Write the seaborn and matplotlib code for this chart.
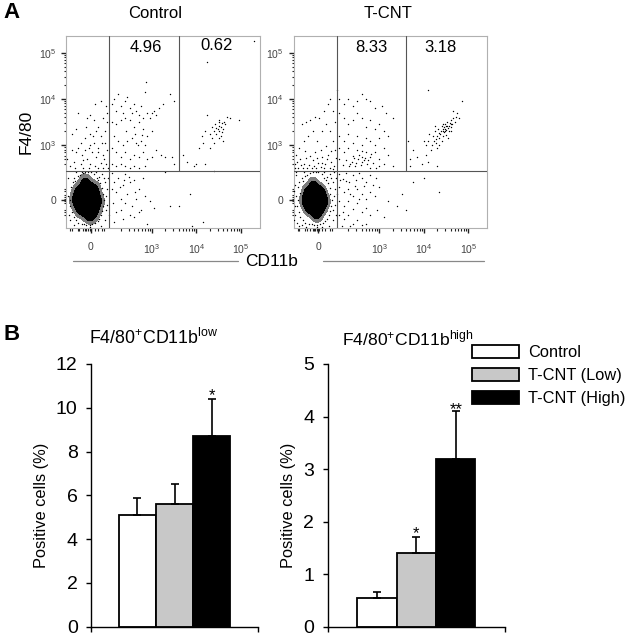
"""
Flow plots (F4/80 vs CD11b) and positive-cell bar charts.
Output: out.png
"""

import numpy as np
import pandas as pd
import matplotlib
matplotlib.use("Agg")
import matplotlib.pyplot as plt
from matplotlib.colors import ListedColormap
import seaborn as sns

W, H = 629, 637

GROUPS = ["Control", "T-CNT (Low)", "T-CNT (High)"]
COLORS = ["white", "#c8c8c8", "black"]
LOW_VALUES = [5.1, 5.6, 8.7]
LOW_ERR = [0.8, 0.9, 1.7]
LOW_STARS = ["", "", "*"]
HIGH_VALUES = [0.55, 1.4, 3.2]
HIGH_ERR = [0.11, 0.3, 0.9]
HIGH_STARS = ["", "*", "**"]

# flow events, in display decades (10^3 = 3, 10^4 = 4, 10^5 = 5)
BLOB_CORE_CTRL = [(1.55, 1.82), (1.4, 1.85), (1.7, 1.85), (1.55, 2.1), (1.55, 1.55), (1.35, 2.0), (1.72, 2.05),
                  (1.38, 1.62), (1.72, 1.6), (1.47, 1.95), (1.63, 1.7), (1.47, 1.7), (1.63, 1.95), (1.28, 1.8),
                  (1.8, 1.8), (1.5, 2.2), (1.62, 1.48), (1.55, 1.82), (1.5, 1.8), (1.6, 1.85)]
BLOB_CORE_TCNT = [(1.55, 1.82), (1.42, 1.85), (1.68, 1.85), (1.55, 2.05), (1.55, 1.58), (1.38, 2.0), (1.7, 2.0),
                  (1.4, 1.65), (1.7, 1.65), (1.47, 1.95), (1.63, 1.7), (1.47, 1.7), (1.63, 1.95), (1.32, 1.8),
                  (1.78, 1.8), (1.52, 2.15), (1.6, 1.5), (1.55, 1.82), (1.5, 1.8), (1.6, 1.85)]

HALO_CTRL = [(1.12, 1.9), (1.15, 1.7), (1.18, 2.1), (1.13, 1.5), (1.2, 1.55), (1.17, 1.82), (1.22, 2.2), (1.24, 1.45),
             (1.22, 1.98), (1.25, 2.3), (1.3, 1.38), (1.28, 2.22), (1.33, 2.33), (1.35, 1.33), (1.38, 2.36), (1.42, 1.3),
             (1.45, 2.4), (1.48, 1.3), (1.5, 2.42), (1.53, 1.28), (1.57, 2.43), (1.6, 1.28), (1.63, 2.42), (1.66, 1.3),
             (1.7, 2.38), (1.73, 1.32), (1.76, 2.3), (1.78, 1.36), (1.8, 2.25), (1.82, 1.42), (1.84, 2.18), (1.86, 1.5),
             (1.88, 2.08), (1.89, 1.58), (1.9, 1.95), (1.91, 1.7), (1.93, 1.82), (1.95, 2.2), (1.96, 1.6), (1.98, 1.9),
             (2.0, 2.05), (2.0, 1.72), (2.02, 2.3), (2.03, 1.5), (1.26, 1.28), (1.42, 2.43), (1.75, 2.43), (1.88, 2.38),
             (1.95, 1.38), (1.86, 1.25), (1.15, 1.38), (1.12, 2.3), (1.3, 2.42), (1.6, 1.24), (1.92, 2.3), (1.82, 2.32)]
SPARSE_CTRL = [(1.85, 3.95), (1.96, 3.85), (1.72, 3.9), (1.62, 3.65), (1.55, 3.6), (1.7, 3.55), (1.8, 3.4), (1.9, 3.6),
               (2.0, 3.7), (1.95, 3.3), (1.85, 3.2), (1.75, 3.3), (1.6, 3.25), (1.5, 3.15), (1.4, 3.05), (1.3, 3.35),
               (1.2, 3.25), (1.33, 3.7), (1.6, 3.0), (1.7, 3.05), (1.8, 2.95), (1.95, 3.05), (2.0, 2.9), (1.9, 2.8),
               (1.75, 2.75), (1.65, 2.85), (1.5, 2.9), (1.42, 2.8), (1.3, 2.85), (1.2, 2.9), (1.25, 2.65), (1.4, 2.6),
               (1.55, 2.7), (1.62, 2.6), (1.72, 2.55), (1.85, 2.62), (1.98, 2.6), (1.15, 2.55), (1.28, 2.52), (1.45, 2.5),
               (1.58, 2.52), (1.8, 2.5), (1.9, 2.52), (2.02, 2.5), (1.1, 2.7), (1.35, 2.95), (1.52, 3.4), (1.68, 3.2),
               (1.88, 3.05), (2.0, 3.5), (1.78, 2.85), (1.58, 2.95), (1.92, 2.7), (1.46, 2.68),
               (2.1, 3.9), (2.15, 4.0), (2.2, 3.75), (2.25, 4.1), (2.3, 3.85), (2.35, 3.7), (2.4, 3.95), (2.45, 4.05),
               (2.5, 3.8), (2.55, 3.7), (2.6, 3.9), (2.65, 3.75), (2.7, 3.65), (2.75, 3.85), (2.8, 3.6), (2.85, 4.15),
               (2.9, 3.7), (2.95, 3.6), (3.0, 3.7), (3.05, 3.75), (3.1, 3.65), (3.15, 3.8), (3.25, 3.9), (3.4, 4.1),
               (3.5, 3.95), (2.87, 4.36), (2.1, 3.5), (2.2, 3.45), (2.3, 3.55), (2.4, 3.6), (2.5, 3.55), (2.6, 3.4),
               (2.7, 3.5), (2.8, 3.35), (2.9, 3.2), (3.0, 3.3), (2.15, 3.2), (2.25, 3.1), (2.35, 3.0), (2.45, 3.1),
               (2.55, 3.15), (2.65, 3.05), (2.75, 3.1), (2.85, 3.0), (2.1, 2.95), (2.2, 2.85), (2.3, 2.75), (2.4, 2.85),
               (2.5, 2.7), (2.6, 2.8), (2.7, 2.75), (2.8, 2.85), (2.9, 2.7), (2.1, 2.6), (2.2, 2.55), (2.3, 2.6),
               (2.4, 2.55), (2.5, 2.5), (2.6, 2.55), (2.7, 2.5), (2.85, 2.55), (3.0, 2.75), (3.2, 2.8), (3.3, 2.75),
               (3.5, 2.6), (3.45, 2.75), (3.1, 2.9), (2.68, 3.0), (2.62, 3.25), (2.42, 3.3), (2.78, 3.22),
               (4.24, 4.79), (5.3, 5.25), (3.7, 2.8), (3.8, 2.65), (3.95, 2.55), (4.05, 2.95), (4.15, 3.05), (4.0, 2.6),
               (4.2, 2.6), (4.25, 3.65), (4.12, 3.2), (4.2, 3.3), (4.3, 3.25), (4.35, 3.4), (4.4, 3.3), (4.42, 3.45),
               (4.45, 3.25), (4.48, 3.35), (4.5, 3.42), (4.52, 3.3), (4.55, 3.4), (4.58, 3.48), (4.6, 3.35), (4.62, 3.5),
               (4.65, 3.45), (4.55, 3.2), (4.5, 3.15), (4.4, 3.05), (4.35, 3.15), (4.6, 3.1), (4.3, 2.95), (4.5, 3.55),
               (4.75, 3.58), (4.95, 3.55), (4.68, 3.62), (4.45, 3.38), (4.52, 3.5), (4.57, 3.28),
               (2.1, 2.4), (2.15, 2.2), (2.2, 2.0), (2.25, 2.3), (2.3, 1.85), (2.35, 2.15), (2.4, 2.38), (2.45, 1.95),
               (2.5, 2.2), (2.55, 1.7), (2.6, 2.25), (2.65, 1.85), (2.7, 2.05), (2.75, 1.6), (2.8, 2.3), (2.85, 1.9),
               (2.12, 1.75), (2.2, 1.55), (2.3, 1.6), (2.4, 1.75), (2.5, 1.5), (2.6, 1.45), (2.7, 1.55), (2.15, 1.35),
               (2.35, 1.4), (2.1, 2.05), (2.28, 2.1), (2.38, 2.25), (2.48, 2.32), (2.62, 2.0), (2.95, 1.8), (3.05, 1.65),
               (3.4, 1.7), (3.6, 1.7), (3.85, 1.95), (4.15, 1.35), (3.3, 2.42), (3.9, 1.25), (4.4, 2.45), (2.9, 1.3)]

HALO_TCNT = [(1.12, 1.9), (1.14, 1.7), (1.16, 2.1), (1.1, 1.5), (1.2, 1.55), (1.17, 1.82), (1.2, 2.2), (1.22, 1.45),
             (1.22, 1.98), (1.25, 2.3), (1.28, 1.38), (1.28, 2.22), (1.33, 2.33), (1.33, 1.33), (1.38, 2.36), (1.42, 1.3),
             (1.45, 2.4), (1.48, 1.3), (1.5, 2.42), (1.53, 1.28), (1.57, 2.43), (1.6, 1.28), (1.63, 2.42), (1.66, 1.3),
             (1.7, 2.38), (1.73, 1.32), (1.76, 2.3), (1.78, 1.36), (1.8, 2.25), (1.82, 1.42), (1.84, 2.18), (1.86, 1.5),
             (1.88, 2.08), (1.89, 1.58), (1.9, 1.95), (1.91, 1.7), (1.93, 1.82), (1.95, 2.2), (1.96, 1.6), (1.98, 1.9),
             (2.0, 2.05), (2.0, 1.72), (2.02, 2.3), (2.03, 1.5), (1.26, 1.28), (1.15, 1.32), (1.12, 2.35), (1.1, 2.15),
             (1.3, 2.42), (1.75, 2.43), (1.88, 2.38), (1.95, 1.38), (1.86, 1.25), (1.6, 1.24), (1.92, 2.3), (1.82, 2.32),
             (1.2, 1.25), (1.35, 1.24), (1.7, 1.23), (1.1, 1.7), (1.98, 2.42), (1.08, 2.02), (1.09, 1.38), (1.13, 2.42)]
SPARSE_TCNT = [(1.9, 4.0), (1.85, 3.9), (1.75, 3.75), (1.55, 3.62), (1.35, 3.5), (1.25, 3.45), (1.45, 3.55), (1.65, 3.58),
               (1.95, 3.75), (1.8, 3.45), (1.9, 3.3), (1.7, 3.3), (1.6, 3.1), (1.5, 3.3), (1.4, 3.2), (1.3, 3.1),
               (1.2, 2.95), (1.12, 2.8), (1.15, 2.65), (1.22, 2.7), (1.3, 2.6), (1.35, 2.72), (1.42, 2.58), (1.5, 2.68),
               (1.55, 2.85), (1.62, 2.62), (1.7, 2.75), (1.78, 2.6), (1.85, 2.8), (1.92, 2.65), (2.0, 2.9), (1.98, 2.55),
               (1.1, 2.52), (1.18, 2.5), (1.28, 2.5), (1.38, 2.52), (1.48, 2.5), (1.58, 2.5), (1.68, 2.53), (1.75, 2.5),
               (1.88, 2.52), (1.95, 2.48), (2.02, 2.72), (1.8, 2.98), (1.68, 2.9), (1.95, 3.1), (2.0, 3.5), (1.1, 2.6),
               (1.24, 2.58), (1.44, 2.78), (1.82, 2.7), (1.72, 2.62), (1.6, 2.72), (1.92, 2.88), (1.52, 2.55), (1.32, 2.88),
               (2.05, 4.2), (2.1, 4.0), (2.2, 3.9), (2.3, 4.0), (2.4, 3.85), (2.5, 3.95), (2.6, 4.1), (2.7, 4.0),
               (2.8, 3.95), (2.9, 3.8), (3.05, 3.85), (3.15, 3.7), (3.3, 3.6), (2.1, 3.7), (2.2, 3.6), (2.3, 3.45),
               (2.4, 3.55), (2.5, 3.7), (2.6, 3.6), (2.7, 3.4), (2.8, 3.55), (2.9, 3.35), (3.0, 3.45), (3.1, 3.3),
               (3.2, 3.2), (2.1, 3.2), (2.2, 3.1), (2.3, 3.25), (2.4, 3.05), (2.5, 3.2), (2.6, 3.0), (2.7, 3.15),
               (2.8, 3.1), (2.9, 3.0), (3.0, 3.15), (3.1, 2.95), (2.1, 2.95), (2.2, 2.85), (2.3, 2.95), (2.4, 2.78),
               (2.5, 2.9), (2.6, 2.75), (2.7, 2.85), (2.8, 2.75), (2.9, 2.85), (3.0, 2.7), (3.1, 2.6), (3.2, 2.8),
               (3.3, 2.55), (2.1, 2.7), (2.18, 2.58), (2.25, 2.68), (2.32, 2.55), (2.38, 2.65), (2.45, 2.55), (2.52, 2.7),
               (2.58, 2.58), (2.65, 2.68), (2.72, 2.6), (2.78, 2.52), (2.85, 2.62), (2.92, 2.52), (3.0, 2.55), (2.55, 2.8),
               (2.62, 2.88), (2.68, 2.72), (2.48, 2.62), (2.42, 2.72), (2.75, 2.68), (2.35, 2.6), (2.6, 2.65), (2.82, 2.82),
               (3.65, 3.1), (3.7, 2.7), (3.75, 2.9), (3.85, 2.75), (3.95, 2.6), (4.05, 2.8), (4.1, 2.65), (4.15, 2.9),
               (4.0, 3.1), (4.3, 2.55), (3.68, 2.55), (4.1, 4.2), (4.85, 3.95), (4.75, 3.7), (4.65, 3.75),
               (4.05, 3.0), (4.1, 3.1), (4.12, 3.25), (4.18, 3.0), (4.2, 3.2), (4.22, 3.1), (4.25, 3.3), (4.28, 3.05),
               (4.3, 3.2), (4.32, 3.35), (4.35, 3.15), (4.38, 3.3), (4.4, 3.42), (4.42, 3.2), (4.44, 3.35), (4.46, 3.28),
               (4.48, 3.45), (4.5, 3.32), (4.52, 3.5), (4.54, 3.38), (4.56, 3.3), (4.58, 3.48), (4.6, 3.4), (4.62, 3.55),
               (4.64, 3.45), (4.66, 3.58), (4.7, 3.5), (4.72, 3.62), (4.45, 3.4), (4.5, 3.22), (4.4, 3.1), (4.35, 3.0),
               (4.3, 2.95), (4.55, 3.15), (4.25, 3.42), (4.5, 3.42), (4.42, 3.3), (4.47, 3.36), (4.53, 3.42), (4.57, 3.42),
               (4.6, 3.3), (4.36, 3.24), (4.28, 3.14), (4.33, 3.26), (4.8, 3.6), (4.48, 3.3), (4.43, 3.46), (4.62, 3.46),
               (2.1, 2.38), (2.18, 2.28), (2.25, 2.4), (2.32, 2.2), (2.4, 2.35), (2.48, 2.25), (2.55, 2.4), (2.62, 2.3),
               (2.7, 2.2), (2.78, 2.35), (2.85, 2.15), (2.92, 2.3), (3.0, 2.1), (2.1, 2.1), (2.2, 2.0), (2.3, 2.05),
               (2.4, 1.9), (2.5, 2.05), (2.6, 1.95), (2.7, 1.85), (2.8, 2.0), (2.9, 1.9), (2.1, 1.8), (2.2, 1.7),
               (2.3, 1.8), (2.4, 1.62), (2.5, 1.75), (2.6, 1.55), (2.7, 1.65), (2.8, 1.5), (2.1, 1.5), (2.2, 1.4),
               (2.3, 1.5), (2.4, 1.3), (2.5, 1.38), (2.6, 1.28), (2.7, 1.3), (2.15, 1.25), (2.35, 1.25), (2.05, 1.95),
               (2.25, 2.22), (2.45, 2.12), (2.65, 2.12), (2.12, 2.25), (2.35, 1.95), (2.55, 1.85), (2.18, 1.55), (3.2, 1.8),
               (3.4, 1.7), (3.5, 1.95), (3.6, 1.6), (3.1, 1.45), (3.75, 2.2), (4.0, 2.3), (4.35, 2.0), (2.95, 1.6)]

# axis decoration positions in display decades
X_LIM, Y_LIM = (1.07, 5.42), (1.215, 5.36)
GATE_X1, GATE_X2, GATE_Y = 2.04, 3.60, 2.45
X_ZERO, Y_ZERO = 1.63, 1.82
DECADES = [3, 4, 5]
NEAR_ZERO_X = [1.17, 1.2, 1.33, 1.37, 1.45, 1.5, 1.53, 1.56, 1.6, 1.64, 1.72, 1.78, 1.88, 1.93]
NEAR_ZERO_Y = [1.5, 1.55, 1.6, 1.76, 1.8, 1.84, 1.88, 1.92, 2.02, 2.05]


def px_axes(fig, left, top, right, bottom):
    return fig.add_axes([left / W, 1 - bottom / H, (right - left) / W, (bottom - top) / H])


def px_text(fig, x, y, s, **kw):
    kw.setdefault("ha", "center")
    kw.setdefault("va", "center")
    fig.text(x / W, 1 - y / H, s, **kw)


def flow_panel(ax, core, halo, sparse):
    core_df = pd.DataFrame(core, columns=["x", "y"])
    # dark speckled rim, then the saturated core
    sns.kdeplot(data=core_df, x="x", y="y", ax=ax, fill=True, levels=[0.035, 0.13, 1.0],
                cmap=ListedColormap(["#7d7d7d", "black"]), bw_adjust=1.0, zorder=2)
    dots = pd.DataFrame(halo + sparse, columns=["x", "y"])
    sns.scatterplot(data=dots, x="x", y="y", ax=ax, s=1.0, color="black", linewidth=0, zorder=3)
    ax.plot([GATE_X1, GATE_X1], Y_LIM, color="#555555", lw=0.8, zorder=4)
    ax.plot([GATE_X2, GATE_X2], [GATE_Y, Y_LIM[1]], color="#555555", lw=0.8, zorder=4)
    ax.plot(X_LIM, [GATE_Y, GATE_Y], color="#555555", lw=0.8, zorder=4)
    ax.set_xlim(*X_LIM)
    ax.set_ylim(*Y_LIM)
    ax.set_xlabel("")
    ax.set_ylabel("")
    for s in ax.spines.values():
        s.set_color("#b0b0b0")
        s.set_linewidth(0.8)
    minors = [np.log10(k) + d for d in [2, 3, 4] for k in range(2, 10)]
    ax.set_xticks([X_ZERO] + DECADES)
    ax.set_xticklabels(["0"] + [rf"$\mathregular{{10^{{{d}}}}}$" for d in DECADES])
    ax.set_yticks([Y_ZERO] + DECADES)
    ax.set_yticklabels(["0"] + [rf"$\mathregular{{10^{{{d}}}}}$" for d in DECADES])
    ax.set_xticks([m for m in minors if m > 2.1] + NEAR_ZERO_X, minor=True)
    ax.set_yticks([m for m in minors if m > 2.5] + NEAR_ZERO_Y, minor=True)
    ax.tick_params(which="major", length=3.5, width=1.0, color="#222222", labelsize=7.5,
                   labelcolor="#444444", pad=3.5)
    ax.tick_params(axis="x", which="major", pad=6.5)
    ax.tick_params(which="minor", length=1.8, width=0.8, color="#222222")


def bar_panel(ax, values, errs, stars, ymax, show_legend):
    df = pd.DataFrame({"panel": ["all"] * 3, "group": GROUPS, "value": values})
    sns.barplot(data=df, x="panel", y="value", hue="group", hue_order=GROUPS, palette=COLORS, ax=ax,
                width=0.667, gap=0, saturation=1, edgecolor="black", linewidth=1.3, errorbar=None,
                legend=show_legend)
    centers = [c[0].get_x() + c[0].get_width() / 2 for c in ax.containers]
    for x, v, e, star in zip(centers, values, errs, stars):
        ax.errorbar([x], [v], yerr=[[0], [e]], fmt="none", ecolor="black", elinewidth=1.2, capsize=3, capthick=1.2)
        if star:
            off = -0.5 if star == "*" else -2.4
            ax.annotate(star, (x, v + e), xytext=(0, off), textcoords="offset points", ha="center",
                        va="baseline", fontsize=12, color="black")
    ax.set_xlim(-0.5, 0.5)
    ax.set_ylim(0, ymax)
    ax.set_xticks([-0.5, 0.5])
    ax.set_xticklabels(["", ""])
    ax.set_xlabel("")
    ax.set_ylabel("")
    ax.tick_params(axis="y", length=3.6, width=1.0, labelsize=14, pad=6, color="black", labelcolor="black")
    ax.tick_params(axis="x", length=3.6, width=1.0, color="black")
    sns.despine(ax=ax)
    for s in ["left", "bottom"]:
        ax.spines[s].set_linewidth(1.0)
        ax.spines[s].set_color("black")


def main():
    sns.set_theme(style="ticks")
    plt.rcParams["font.family"] = ["Liberation Sans", "DejaVu Sans"]
    plt.rcParams["text.color"] = "black"
    plt.rcParams["mathtext.default"] = "regular"
    plt.rcParams["mathtext.fontset"] = "custom"
    plt.rcParams["mathtext.rm"] = "Liberation Sans"

    fig = plt.figure(figsize=(W / 100, H / 100), dpi=100)

    flow_panel(px_axes(fig, 66, 36, 259.5, 228), BLOB_CORE_CTRL, HALO_CTRL, SPARSE_CTRL)
    flow_panel(px_axes(fig, 293.5, 36, 487, 228), BLOB_CORE_TCNT, HALO_TCNT, SPARSE_TCNT)

    px_text(fig, 155, 13.5, "Control", fontsize=12)
    px_text(fig, 388, 13.5, "T-CNT", fontsize=12)
    for x, y, s in [(145.7, 48, "4.96"), (216.7, 46, "0.62"), (371, 47, "8.33"), (440, 47, "3.18")]:
        px_text(fig, x, y, s, fontsize=12)
    px_text(fig, 26, 132, "F4/80", fontsize=12.5, rotation=90)
    px_text(fig, 272, 261, "CD11b", fontsize=12.5)
    for x0, x1 in [(73, 238), (323, 484)]:
        fig.add_artist(plt.Line2D([x0 / W, x1 / W], [1 - 261 / H] * 2, color="#888888", lw=0.9))
    px_text(fig, 12, 13, "A", fontsize=16, fontweight="bold")
    px_text(fig, 12, 334, "B", fontsize=16, fontweight="bold")

    ax_low = px_axes(fig, 91, 364, 258, 626.7)
    bar_panel(ax_low, LOW_VALUES, LOW_ERR, LOW_STARS, 12, False)
    ax_high = px_axes(fig, 327.7, 364, 505, 626.7)
    bar_panel(ax_high, HIGH_VALUES, HIGH_ERR, HIGH_STARS, 5, True)
    sns.move_legend(ax_high, "upper left", bbox_to_anchor=(472 / W, 1 - 345 / H), bbox_transform=fig.transFigure,
                    title=None, frameon=False, fontsize=11.8, handlelength=2.88, handleheight=0.8,
                    labelspacing=0.5, handletextpad=0.56, borderpad=0, borderaxespad=0)

    px_text(fig, 154, 338, r"F4/80$^{+}$CD11b$^{low}$", fontsize=12.8)
    px_text(fig, 408, 338, r"F4/80$^{+}$CD11b$^{high}$", fontsize=12.6)
    px_text(fig, 41.7, 505, "Positive cells (%)", fontsize=11.8, rotation=90)
    px_text(fig, 288, 505, "Positive cells (%)", fontsize=11.8, rotation=90)

    fig.savefig("out.png", dpi=100)
    plt.close(fig)


if __name__ == "__main__":
    main()
